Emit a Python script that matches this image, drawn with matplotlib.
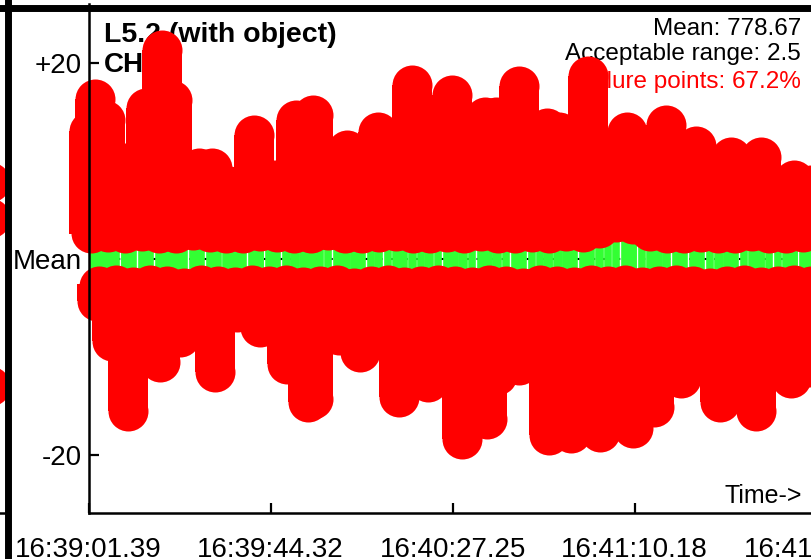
import matplotlib

matplotlib.use("Agg")
import matplotlib.pyplot as plt
from matplotlib.lines import Line2D

plt.rcParams["font.family"] = ["Liberation Sans", "DejaVu Sans"]

# time axis: seconds after 16:39:01.39, values: deviation from the mean
peak_up_t = [0.0, 1.4, 3.8, 8.5, 13.5, 17.2, 19.6, 26.0, 29.0, 33.0, 39.0, 44.0, 49.0, 53.0,
             61.0, 68.3, 76.3, 85.7, 93.5, 96.0, 101.6, 108.0, 111.0, 117.7, 126.9, 136.3,
             143.2, 151.5, 158.5, 166.4, 170.5, 175.0]
peak_up_v = [13.0, 16.3, 14.2, 9.8, 15.4, 21.3, 16.2, 9.3, 9.3, 7.4, 12.6, 8.1, 14.2, 14.7,
             11.1, 12.9, 17.7, 16.7, 14.5, 14.5, 17.6, 13.4, 12.9, 18.7, 12.9, 13.7,
             11.5, 10.4, 10.4, 8.1, 7.5, 7.3]

peak_dn_t = [1.9, 5.4, 9.2, 16.8, 21.5, 29.8, 35.0, 40.4, 46.8, 51.7, 53.0, 59.0, 64.0,
             73.3, 80.0, 88.1, 94.0, 96.4, 101.5, 108.5, 113.7, 120.7, 128.3, 133.3,
             139.7, 149.0, 157.4, 165.6, 170.0, 174.0]
peak_dn_v = [-4.3, -8.4, -15.5, -10.5, -8.0, -11.5, -5.4, -6.9, -10.7, -14.6, -14.3, -7.7, -9.5,
             -14.1, -12.5, -18.4, -16.3, -11.8, -10.8, -17.9, -17.7, -17.6, -17.2, -15.1,
             -12.1, -14.6, -15.5, -12.1, -11.0, -10.5]

# failures just outside the acceptable range
edge_up_t = [0.5, 4.5, 8.5, 12.5, 16.5, 20.5, 24.5, 28.5, 32.5, 36.5, 40.5, 44.5, 48.5, 52.5,
             56.5, 60.5, 64.5, 68.5, 72.5, 76.5, 80.5, 84.5, 88.5, 92.5, 96.5, 100.5, 104.5,
             108.5, 112.5, 116.5, 120.5, 124.5, 128.5, 132.5, 136.5, 140.5, 144.5, 148.5,
             152.5, 156.5, 160.5, 164.5, 168.5, 172.5]
edge_up_v = [2.7, 2.8, 2.6, 2.9, 2.7, 2.6, 3.0, 2.8, 2.7, 2.6,
             2.9, 2.8, 2.6, 2.7, 3.0, 2.7, 2.6, 2.8, 2.9, 2.6,
             2.7, 2.8, 2.6, 2.9, 2.7, 2.6, 2.8, 2.7, 2.9, 2.8,
             3.2, 3.8, 3.6, 2.9, 2.7, 2.6, 2.8, 2.7, 2.6, 2.9,
             2.7, 2.6, 2.8, 2.7]
edge_dn_t = [2.5, 6.5, 10.5, 14.5, 18.5, 22.5, 26.5, 30.5, 34.5, 38.5, 42.5, 46.5, 50.5, 54.5,
             58.5, 62.5, 66.5, 70.5, 74.5, 78.5, 82.5, 86.5, 90.5, 94.5, 98.5, 102.5, 106.5,
             110.5, 114.5, 118.5, 122.5, 126.5, 130.5, 134.5, 138.5, 142.5, 146.5, 150.5,
             154.5, 158.5, 162.5, 166.5, 170.5, 174.5]
edge_dn_v = [-2.8, -2.7, -2.9, -2.7, -2.8, -3.0, -2.7, -2.8, -2.9, -2.7,
             -2.8, -2.7, -2.9, -2.8, -2.7, -3.0, -2.8, -2.7, -2.9, -2.8,
             -2.7, -2.8, -2.9, -2.7, -2.8, -3.0, -2.7, -2.8, -2.9, -2.7,
             -2.8, -2.7, -2.9, -2.8, -2.7, -2.8, -3.0, -2.8, -2.7, -2.9,
             -2.8, -2.7, -2.8, -2.9]

# neighbouring panel on the left, only its right edge is in the picture
side_t = [67.5, 67.5, 67.5]
side_v = [7.9, 4.2, -13.0]

tick_t = [0, 42.93, 85.86, 128.79, 171.72]
tick_labels = ["16:39:01.39", "16:39:44.32", "16:40:27.25", "16:41:10.18", "16:41:53.11"]

mean_value = 778.67
acceptable = 2.5
failure_pct = 67.2

W, H = 812, 559
fig = plt.figure(figsize=(W / 100, H / 100), dpi=100)
ax = fig.add_axes([88.7 / W, 46 / H, 763 / W, 509 / H])
ax.set_xlim(0, 180)
ax.set_ylim(-25.9, 26.0)

up_t = peak_up_t + edge_up_t
up_v = peak_up_v + edge_up_v
dn_t = peak_dn_t + edge_dn_t
dn_v = peak_dn_v + edge_dn_v
all_t = sorted(up_t + dn_t)

ax.axhline(0, color="black", lw=1.5, dashes=(3, 3), zorder=1)
ax.vlines(all_t, -acceptable, acceptable, color="#33ff33", lw=5.5, zorder=2)

red = "#ff0000"
ax.vlines(up_t, acceptable, up_v, color=red, lw=28.8, capstyle="butt", zorder=4, clip_on=False)
ax.vlines(dn_t, -acceptable, dn_v, color=red, lw=28.8, capstyle="butt", zorder=4, clip_on=False)
ax.scatter(up_t + dn_t, up_v + dn_v, s=829, color=red, linewidths=0, zorder=4, clip_on=False)

for s in ["top", "right"]:
    ax.spines[s].set_visible(False)
for s in ["left", "bottom"]:
    ax.spines[s].set_linewidth(1.8)
    ax.spines[s].set_zorder(5)

ax.set_xticks(tick_t, tick_labels)
ax.set_yticks([20, 0, -20], ["+20", "Mean", "-20"])
ax.tick_params(direction="in", length=7, width=1.6, labelsize=20)
ax.tick_params(axis="x", pad=17)
ax.tick_params(axis="y", pad=5)

tf = fig.transFigure
ax.text(104 / W, 1 - 42 / H, "L5.2 (with object)", transform=tf, fontsize=20.5,
        fontweight="bold", zorder=3)
ax.text(104 / W, 1 - 72 / H, "CH1", transform=tf, fontsize=20, fontweight="bold", zorder=3)
ax.text(801 / W, 1 - 35 / H, f"Mean: {mean_value}", transform=tf, fontsize=17.5, ha="right", zorder=3)
ax.text(801 / W, 1 - 60 / H, f"Acceptable range: {acceptable}", transform=tf, fontsize=17.5,
        ha="right", zorder=3)
ax.text(801 / W, 1 - 88 / H, f"Failure points: {failure_pct}%", transform=tf, fontsize=17.5,
        ha="right", color=red, zorder=3)
ax.text(802 / W, 1 - 503 / H, "Time->", transform=tf, fontsize=18, ha="right", zorder=3)

side = fig.add_axes([(4 - 300) / W, 46 / H, 300 / W, 509 / H])
side.set_xlim(0, 300 / 4.24)
side.set_ylim(-25.9, 26.0)
side.patch.set_visible(False)
for s in ["top", "right", "left"]:
    side.spines[s].set_visible(False)
side.spines["bottom"].set_linewidth(1.8)
side.set_xticks([])
side.set_yticks([])
side.scatter(side_t, side_v, s=829, color=red, linewidths=0, clip_on=False)

# heavy frame lines of the panel grid
fig.add_artist(Line2D([0, 1], [1 - 7.5 / H] * 2, transform=tf, color="black", lw=5))
fig.add_artist(Line2D([7.8 / W] * 2, [0, 1], transform=tf, color="black", lw=5))

fig.savefig("out.png", dpi=100)
